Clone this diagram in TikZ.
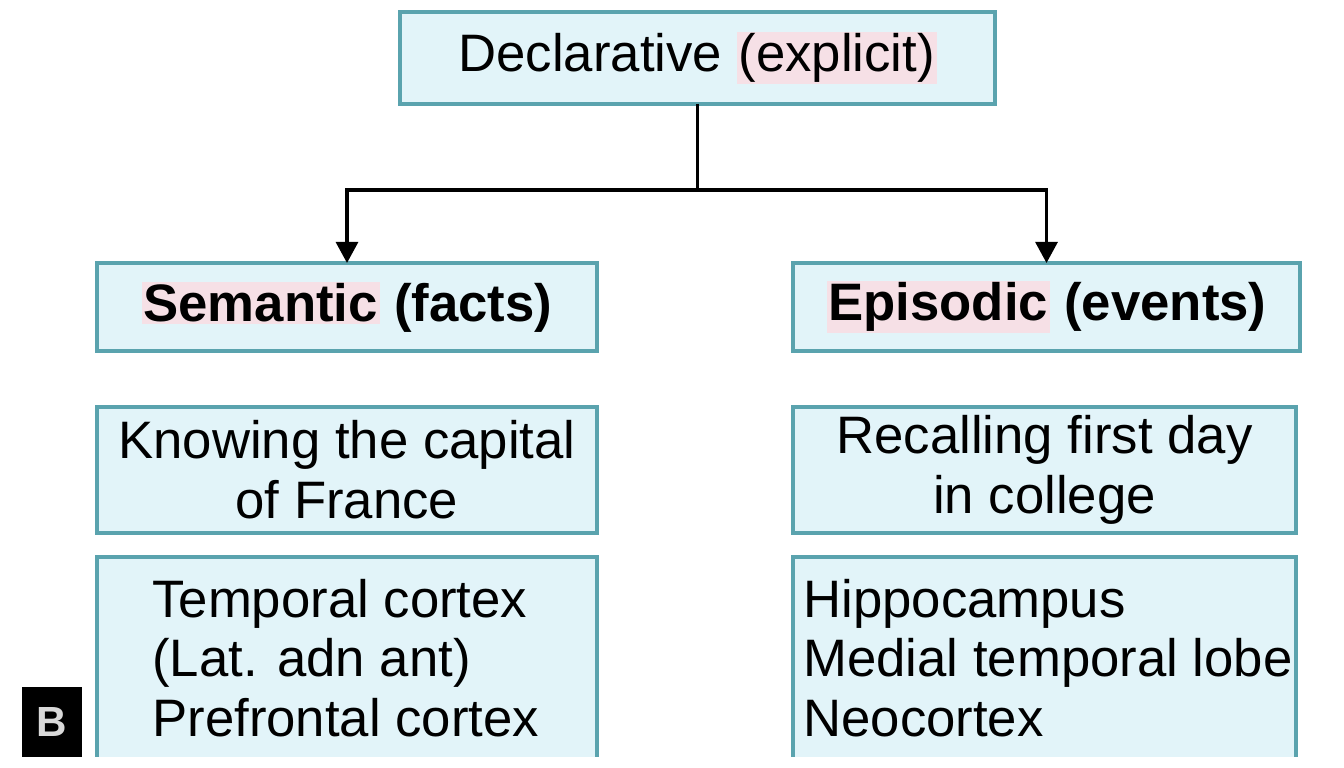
\documentclass[tikz,border=0pt]{standalone}
\usepackage{fontspec}
\setmainfont{Liberation Sans}
\usepackage{xcolor}
\usepackage{tikz}
\usetikzlibrary{arrows.meta}
\definecolor{boxline}{HTML}{5AA3AE}
\definecolor{boxfill}{HTML}{E2F4F9}
\definecolor{hlpink}{HTML}{F6E0E6}
\newcommand{\pinkhl}[1]{{\setlength{\fboxsep}{1pt}\colorbox{hlpink}{#1}}}
\tikzset{
  membox/.style={draw=boxline, line width=2.2pt, fill=boxfill, inner sep=0pt, outer sep=0pt,
    font=\fontsize{30}{34}\selectfont},
  headbox/.style={membox, font=\fontsize{30}{34}\selectfont\bfseries},
  openbox/.style={fill=boxfill, inner sep=0pt, outer sep=0pt},
  sideline/.style={draw=boxline, line width=2.2pt},
  listtext/.style={inner sep=0pt, align=left, font=\fontsize{30}{34}\selectfont},
  panel/.style={fill=black, text=white!85!black, inner sep=0pt, minimum width=1.2cm, minimum height=1.4cm,
    font=\fontsize{24}{24}\selectfont\bfseries},
  branch/.style={line width=1.9pt, -{Triangle[width=12.5pt,length=12pt]}}
}
\begin{document}
\begin{tikzpicture}[x=0.02cm,y=-0.02cm]
	\useasboundingbox (0,0) rectangle (1344,767);
	% top level
	\node[membox, minimum width=11.9cm, minimum height=1.84cm] (decl) at (697.5,58) {Declarative \pinkhl{(explicit)}};
	% two kinds
	\node[headbox, minimum width=10cm, minimum height=1.76cm] (sem) at (347,307) {\pinkhl{Semantic} (facts)};
	\node[headbox, minimum width=10.14cm, minimum height=1.76cm] (epi) at (1046.5,307) {\pinkhl{Episodic} (events)};
	% examples
	\node[membox, align=center, minimum width=10cm, minimum height=2.52cm] (know) at (347,470) {Knowing the capital\\of France};
	\node[membox, align=center, minimum width=10.06cm, minimum height=2.52cm] (recall) at (1044.5,470) {Recalling first day\\in college};
	% brain regions, cut off at the bottom
	\node[openbox, minimum width=10cm, minimum height=4cm] (temp) at (347,657) {};
	\node[openbox, minimum width=10.06cm, minimum height=4cm] (hippo) at (1044.5,657) {};
	\draw[sideline] (temp.south west) -- (temp.north west) -- (temp.north east) -- (temp.south east);
	\draw[sideline] (hippo.south west) -- (hippo.north west) -- (hippo.north east) -- (hippo.south east);
	\node[listtext, anchor=west] (templist) at (152,658) {Temporal cortex\\(Lat. adn ant)\\Prefrontal cortex};
	\node[listtext, anchor=west] (hippolist) at (803,658) {Hippocampus\\Medial temporal lobe\\Neocortex};
	\node[panel] (tag) at (52,722) {B};
	% connectors
	\coordinate (fork) at (697.5,190);
	\draw[line width=1.9pt] (decl.south) -- (fork);
	\draw[branch] (fork) -| (sem.north);
	\draw[branch] (fork) -| (epi.north);
\end{tikzpicture}
\end{document}
